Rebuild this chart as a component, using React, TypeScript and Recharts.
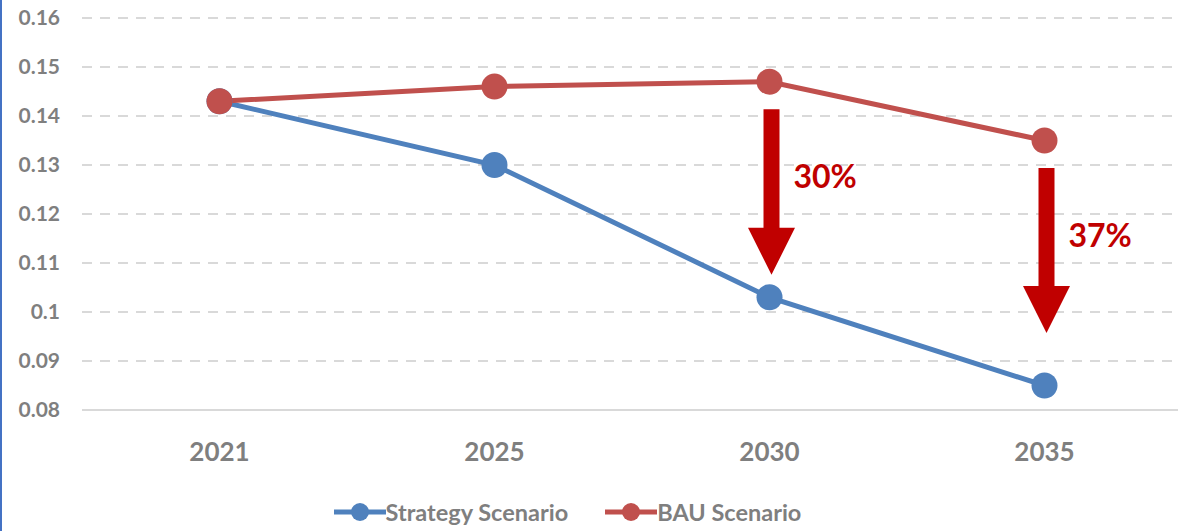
import React from 'react';
import { LineChart, Line, XAxis, YAxis, CartesianGrid, Legend, ReferenceLine } from 'recharts';

const years = ['2021', '2025', '2030', '2035'];
const strategyValues = [0.143, 0.130, 0.103, 0.085];
const bauValues = [0.143, 0.146, 0.147, 0.135];
const yTicks = [0.08, 0.09, 0.10, 0.11, 0.12, 0.13, 0.14, 0.15, 0.16];
const reductionYears = ['2030', '2035'];
const reductionFrom = [0.1414, 0.1294];
const reductionTo = [0.1076, 0.0957];
const reductionLabels = ['30%', '37%'];

const BLUE = '#4F81BD';
const RED = '#C0504D';
const ARROW = '#C00000';
const GRAY = '#7F7F7F';
const FONT = "Lato, 'Open Sans', sans-serif";

const data = years.map((y, i) => ({ year: y, strategy: strategyValues[i], bau: bauValues[i] }));

const makeArrow = (label: string) => (props: any) => {
  const { x1, y1, y2 } = props;
  const cx = x1 + 2;
  const top = Math.min(y1, y2);
  const tip = Math.max(y1, y2);
  const headLen = 47;
  const shaft = 8;
  const head = 23.5;
  const hs = tip - headLen;
  const pts = [
    [cx - shaft, top], [cx + shaft, top], [cx + shaft, hs], [cx + head, hs],
    [cx, tip], [cx - head, hs], [cx - shaft, hs],
  ].map((p) => p.join(',')).join(' ');
  const mid = (top + tip) / 2 - 15;
  return (
    <g>
      <polygon points={pts} fill={ARROW} />
      <text x={cx + 22} y={mid} dy="0.36em" fill={ARROW} fontFamily={FONT} fontWeight={700} fontSize={32}>
        {label}
      </text>
    </g>
  );
};

const renderLegend = (props: any) => {
  const items = [
    { name: 'Strategy Scenario', color: BLUE },
    { name: 'BAU Scenario', color: RED },
  ];
  return (
    <div style={{ display: 'flex', justifyContent: 'center', alignItems: 'center', paddingTop: 30, gap: 37, paddingRight: 47 }}>
      {items.map((it) => (
        <div key={it.name} style={{ display: 'flex', alignItems: 'center' }}>
          <svg width={52} height={22}>
            <line x1={0} y1={11} x2={52} y2={11} stroke={it.color} strokeWidth={5} />
            <circle cx={26} cy={11} r={9} fill={it.color} />
          </svg>
          <span style={{ color: GRAY, fontFamily: FONT, fontWeight: 700, fontSize: 23.5, lineHeight: '24px' }}>{it.name}</span>
        </div>
      ))}
    </div>
  );
};

export default function App() {
  return (
    <div style={{ position: 'fixed', left: 0, top: 0, width: 1178, height: 531, overflow: 'hidden', background: '#fff' }}>
      <div style={{ position: 'absolute', left: 0, top: 0, width: 2, height: 531, background: '#4472C4' }} />
      <LineChart width={1182} height={531} data={data} margin={{ top: 18, right: 0, bottom: 0, left: 0 }}>
        <CartesianGrid vertical={false} stroke="#D9D9D9" strokeWidth={2} strokeDasharray="10 8" />
        <XAxis
          dataKey="year"
          height={60}
          padding={{ left: 137.5, right: 137.5 }}
          tickLine={false}
          axisLine={{ stroke: '#D9D9D9', strokeWidth: 2 }}
          tickMargin={27}
          tick={{ fill: GRAY, fontFamily: FONT, fontWeight: 700, fontSize: 26 }}
        />
        <YAxis
          width={82}
          domain={[0.08, 0.16]}
          ticks={yTicks}
          axisLine={false}
          tickLine={false}
          tickMargin={16}
          tickFormatter={(v: number) => String(+v.toFixed(2))}
          tick={{ fill: GRAY, fontFamily: FONT, fontWeight: 700, fontSize: 21 }}
        />
        <Legend verticalAlign="bottom" height={61} content={renderLegend} />
        <Line type="linear" dataKey="strategy" name="Strategy Scenario" stroke={BLUE} strokeWidth={5}
          dot={{ r: 13, fill: BLUE, stroke: BLUE, strokeWidth: 0 }} activeDot={false} isAnimationActive={false} />
        <Line type="linear" dataKey="bau" name="BAU Scenario" stroke={RED} strokeWidth={5}
          dot={{ r: 13, fill: RED, stroke: RED, strokeWidth: 0 }} activeDot={false} isAnimationActive={false} />
        {reductionYears.map((yr, i) => (
          <ReferenceLine key={yr} ifOverflow="visible"
            segment={[{ x: yr, y: reductionFrom[i] }, { x: yr, y: reductionTo[i] }]}
            shape={makeArrow(reductionLabels[i])} />
        ))}
      </LineChart>
    </div>
  );
}
